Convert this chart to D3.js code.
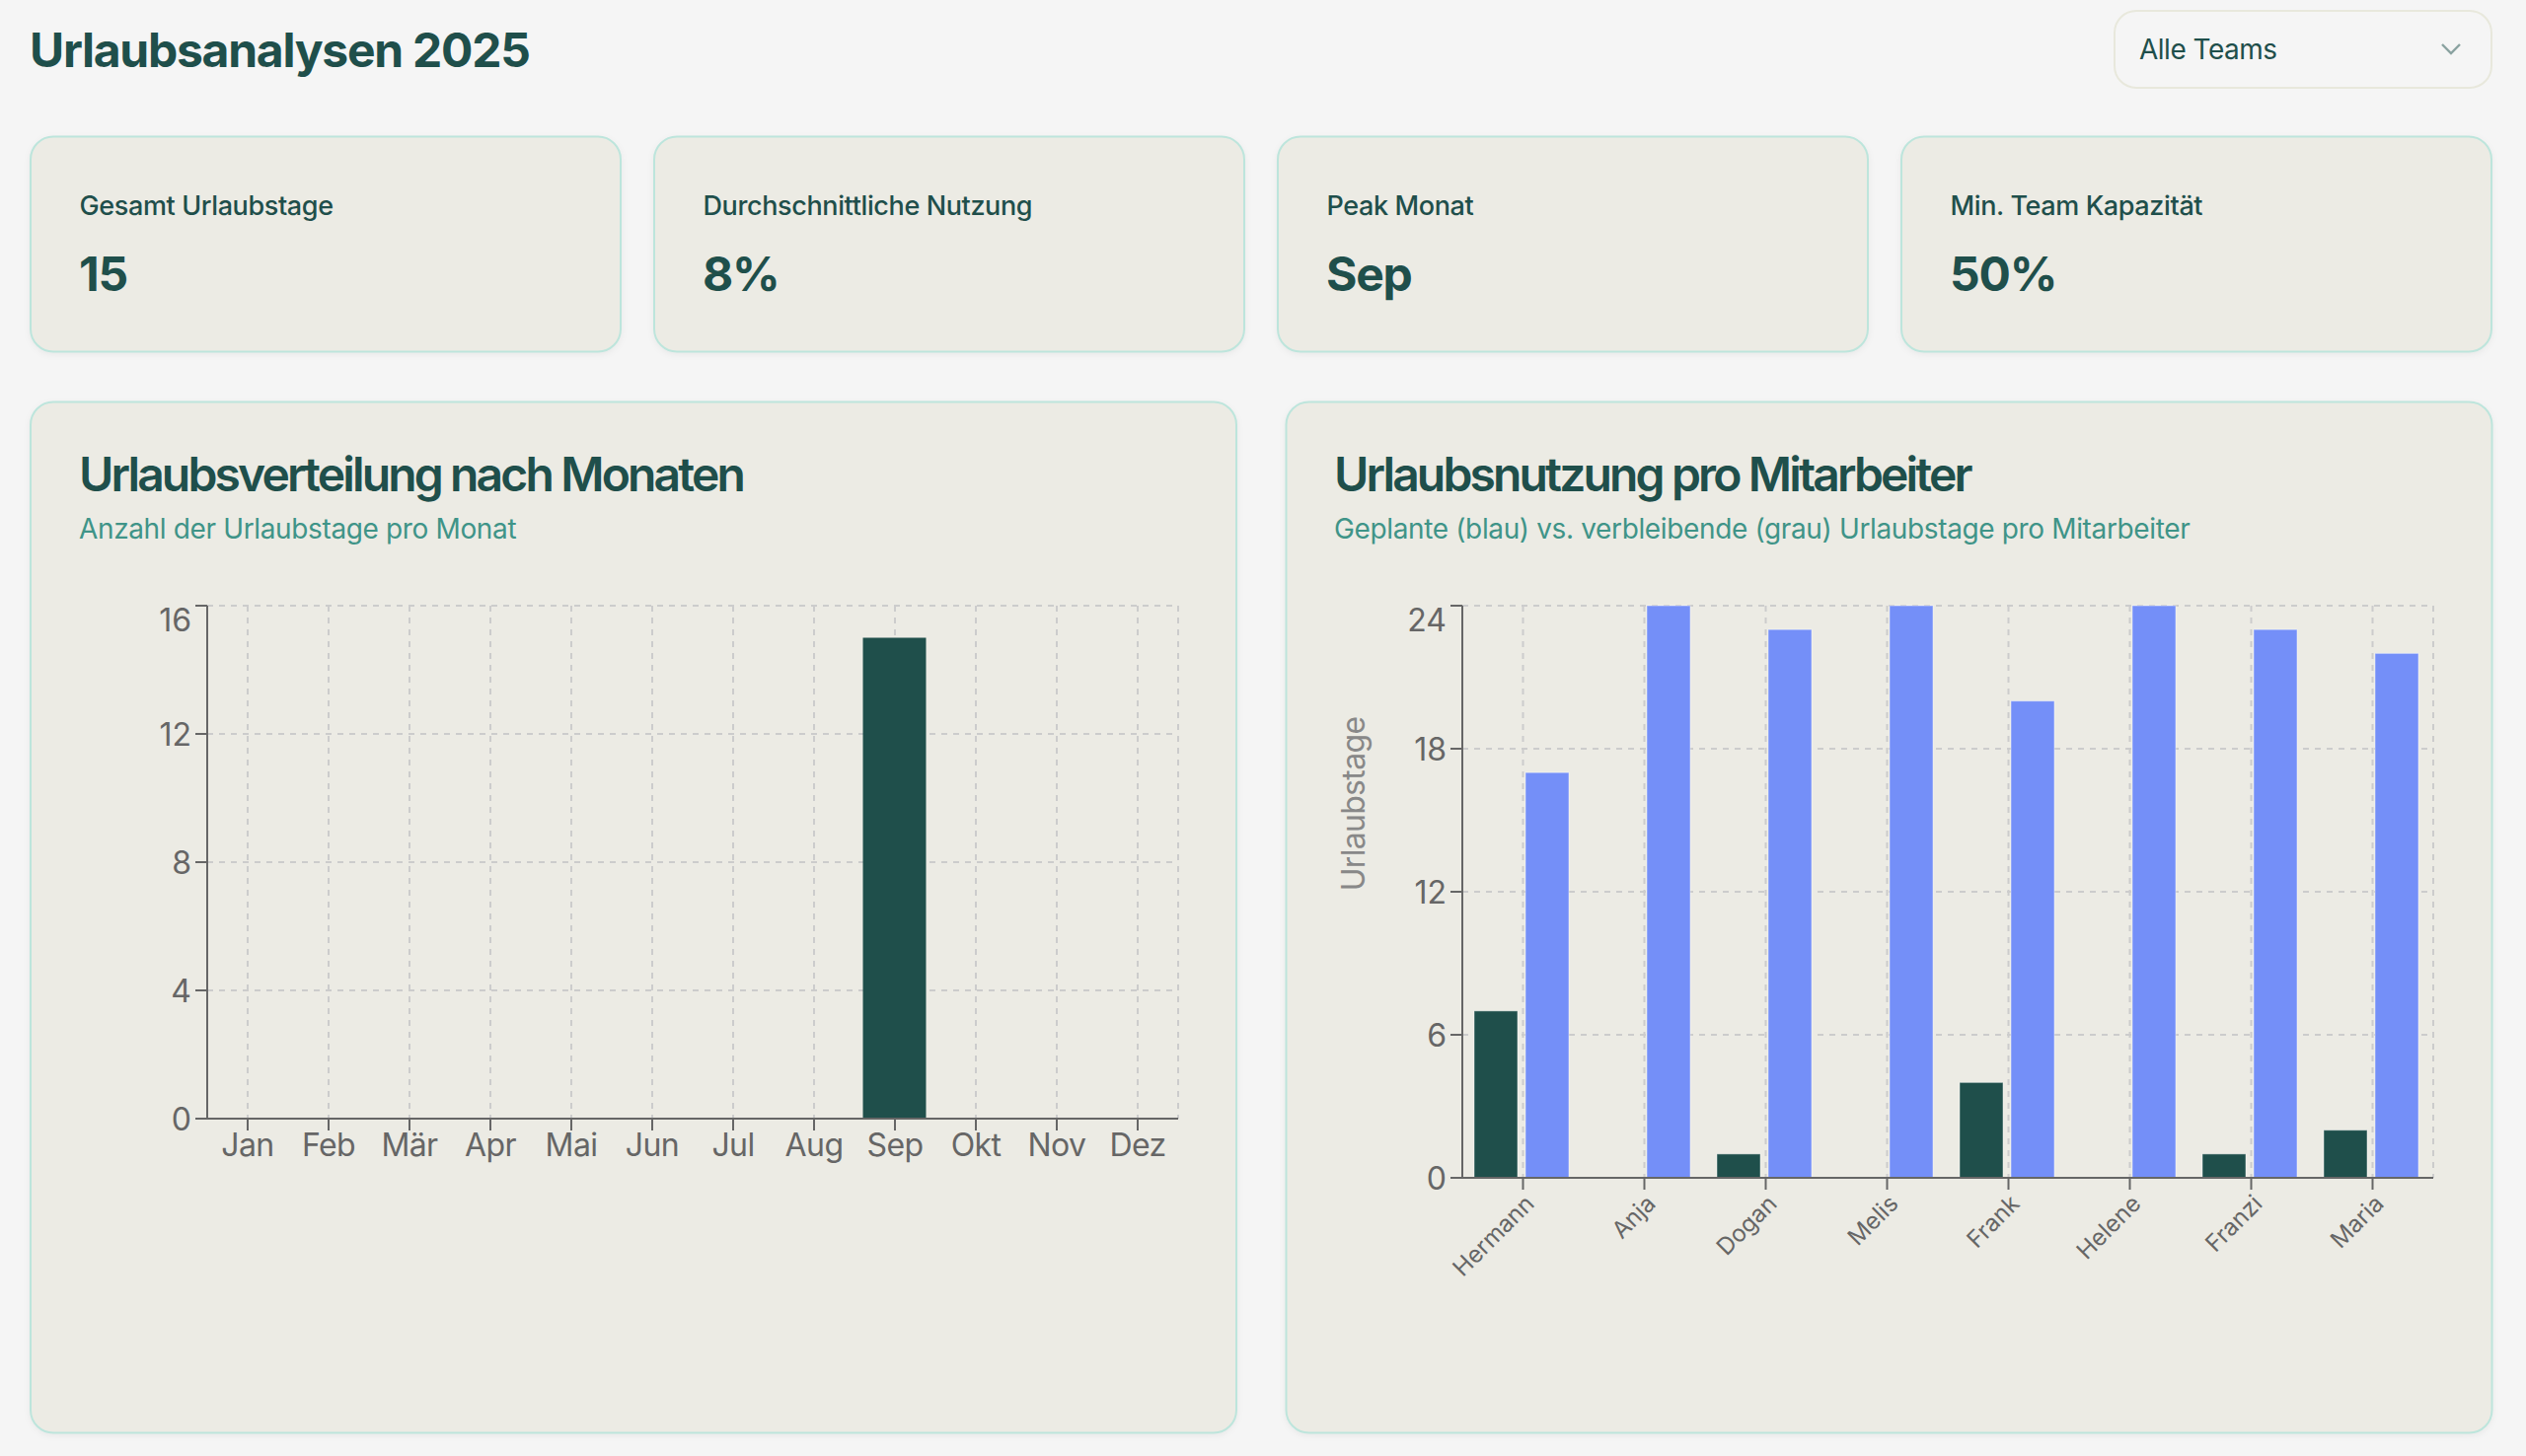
<!DOCTYPE html>
<html lang="de">
<head>
<meta charset="utf-8">
<title>Urlaubsanalysen 2025</title>
<script src="https://cdn.jsdelivr.net/npm/d3@7/dist/d3.min.js"></script>
<style>
html,body{margin:0;padding:0;background:#f5f5f5;overflow:hidden}
svg{display:block;font-family:Inter,"Noto Sans",sans-serif}
.panel{fill:#ecebe4;stroke:#bde5dc;stroke-width:2;filter:drop-shadow(0 2px 3px rgba(0,0,0,.05))}
.axis path,.axis line{stroke:#666;stroke-width:2}
.axis text{fill:#666;font-family:Inter,sans-serif}
.grid line{stroke:#ccc;stroke-width:2;stroke-dasharray:6 6}
</style>
</head>
<body>
<svg id="chart" width="2560" height="1476" viewBox="0 0 2560 1476"></svg>
<script>
const pageTitle = "Urlaubsanalysen 2025";
const teamFilter = "Alle Teams";
const kpiLabels = ["Gesamt Urlaubstage", "Durchschnittliche Nutzung", "Peak Monat", "Min. Team Kapazität"];
const kpiValues = ["15", "8%", "Sep", "50%"];

const monthTitle = "Urlaubsverteilung nach Monaten";
const monthSubtitle = "Anzahl der Urlaubstage pro Monat";
const months = ["Jan","Feb","Mär","Apr","Mai","Jun","Jul","Aug","Sep","Okt","Nov","Dez"];
const monthDays = [0,0,0,0,0,0,0,0,15,0,0,0];
const monthTicks = [0,4,8,12,16];

const staffTitle = "Urlaubsnutzung pro Mitarbeiter";
const staffSubtitle = "Geplante (blau) vs. verbleibende (grau) Urlaubstage pro Mitarbeiter";
const staffAxisLabel = "Urlaubstage";
const staff = ["Hermann","Anja","Dogan","Melis","Frank","Helene","Franzi","Maria"];
const plannedDays = [7,0,1,0,4,0,1,2];
const remainingDays = [17,24,23,24,20,24,23,22];
const staffTicks = [0,6,12,18,24];

const DARK = "#1f4f4b", BLUE = "#748ff8", TEAL = "#3f9488";
const svg = d3.select("#chart");

// header
svg.append("text").attr("x",30).attr("y",68).attr("fill",DARK)
  .attr("font-size",48).attr("font-weight",700).attr("letter-spacing",-1.25).text(pageTitle);

svg.append("rect").attr("x",2143).attr("y",11).attr("width",382).attr("height",78).attr("rx",22)
  .attr("fill","#f5f5f5").attr("stroke","#e8e8dc").attr("stroke-width",2);
svg.append("text").attr("x",2168).attr("y",60).attr("fill",DARK).attr("font-size",28)
  .attr("letter-spacing",-0.5).text(teamFilter);
svg.append("path").attr("d","M2475 45l9 9l9 -9").attr("fill","none").attr("stroke",DARK)
  .attr("stroke-width",2.4).attr("opacity",.5);

// KPI cards
const kpiLeft = [31,663,1295,1927];
const kpi = svg.selectAll("g.kpi").data(kpiLabels).join("g").attr("class","kpi")
  .attr("transform",(d,i)=>`translate(${kpiLeft[i]},138.5)`);
kpi.append("rect").attr("class","panel").attr("width",598).attr("height",218).attr("rx",23);
kpi.append("text").attr("x",49.5).attr("y",79.5).attr("fill",DARK).attr("font-size",27).attr("font-weight",500)
  .attr("letter-spacing",-0.38).text(d=>d);
kpi.append("text").attr("x",49).attr("y",156).attr("fill",DARK).attr("font-size",48).attr("font-weight",700)
  .attr("letter-spacing",-1.2).text((d,i)=>kpiValues[i]);

// chart panels
function panel(x, w, textX, title, subtitle){
  const g = svg.append("g").attr("transform",`translate(${x},407.5)`);
  g.append("rect").attr("class","panel").attr("width",w).attr("height",1045).attr("rx",23);
  g.append("text").attr("x",textX-x).attr("y",90.5).attr("fill",DARK).attr("font-size",48).attr("font-weight",600)
    .attr("letter-spacing",-2.85).text(title);
  g.append("text").attr("x",textX-x).attr("y",138.5).attr("fill",TEAL).attr("font-size",28)
    .attr("letter-spacing",-0.36).text(subtitle);
}
panel(31, 1222, 80, monthTitle, monthSubtitle);
panel(1303.5, 1222, 1352, staffTitle, staffSubtitle);

function grid(x, y, xTicks, yTicks){
  const [l,r] = x.range(), [b,t] = y.range();
  const g = svg.append("g").attr("class","grid");
  g.selectAll("line.h").data(yTicks).join("line").attr("class","h")
    .attr("x1",l).attr("x2",r).attr("y1",d=>y(d)).attr("y2",d=>y(d));
  g.selectAll("line.v").data(xTicks.concat(["__end"])).join("line").attr("class","v")
    .attr("x1",d=>d==="__end"?r:x(d)+x.bandwidth()/2).attr("x2",d=>d==="__end"?r:x(d)+x.bandwidth()/2)
    .attr("y1",t).attr("y2",b);
}
function yAxis(y, ticks, left){
  const g = svg.append("g").attr("class","axis").attr("transform",`translate(${left},0)`)
    .call(d3.axisLeft(y).tickValues(ticks).tickSize(12).tickPadding(4).tickSizeOuter(0).offset(0));
  g.selectAll("text").attr("font-size",32).attr("dy",".36em");
  const top = d3.max(ticks);
  g.selectAll(".tick").filter(d=>d===top).select("text").attr("dy","0.8em");
  return g;
}

// monthly chart
const mx = d3.scaleBand().domain(months).range([210,1194]);
const my = d3.scaleLinear().domain([0,16]).range([1134,614]);
const mInner = d3.scaleBand().domain(["days"]).range([0,mx.bandwidth()]).padding(.1236);
grid(mx,my,months,monthTicks);
svg.append("g").selectAll("rect").data(months).join("rect")
  .attr("x",d=>mx(d)+mInner("days")-0.5).attr("width",mInner.bandwidth())
  .attr("y",(d,i)=>my(monthDays[i])).attr("height",(d,i)=>my(0)-my(monthDays[i]))
  .attr("fill",DARK);
yAxis(my,monthTicks,210);
const mAxis = svg.append("g").attr("class","axis").attr("transform","translate(0,1134)")
  .call(d3.axisBottom(mx).tickSize(12).tickPadding(3).tickSizeOuter(0).offset(0));
mAxis.selectAll("text").attr("font-size",32).attr("letter-spacing",-0.6);

// staff chart
const sx = d3.scaleBand().domain(staff).range([1482,2466]);
const sy = d3.scaleLinear().domain([0,24]).range([1194,614]);
const seriesNames = ["planned","remaining"];
const sInner = d3.scaleBand().domain(seriesNames)
  .range([sx.bandwidth()*.0976,sx.bandwidth()*.878]).paddingInner(.1538);
grid(sx,sy,staff,staffTicks);
const seriesValues = {planned:plannedDays, remaining:remainingDays};
const seriesFill = {planned:DARK, remaining:BLUE};
seriesNames.forEach(s=>{
  svg.append("g").selectAll("rect").data(staff).join("rect")
    .attr("x",d=>sx(d)+sInner(s)).attr("width",sInner.bandwidth())
    .attr("y",(d,i)=>sy(seriesValues[s][i])).attr("height",(d,i)=>sy(0)-sy(seriesValues[s][i]))
    .attr("fill",seriesFill[s]).attr("stroke","#fff").attr("stroke-opacity",.45).attr("stroke-width",1)
    .style("display",(d,i)=>seriesValues[s][i]===0?"none":null);
});
yAxis(sy,staffTicks,1482);
const sAxis = svg.append("g").attr("class","axis").attr("transform","translate(0,1194)")
  .call(d3.axisBottom(sx).tickSize(12).tickPadding(8).tickSizeOuter(0).offset(0));
sAxis.selectAll("text").attr("font-size",24).attr("text-anchor","end")
  .attr("transform","translate(-6,9) rotate(-45)").attr("dy",".6em").attr("y",12);
svg.append("text").attr("transform","translate(1383,815) rotate(-90)").attr("text-anchor","middle")
  .attr("fill","#888").attr("font-size",32).attr("letter-spacing",-0.7).text(staffAxisLabel);
</script>
</body>
</html>
